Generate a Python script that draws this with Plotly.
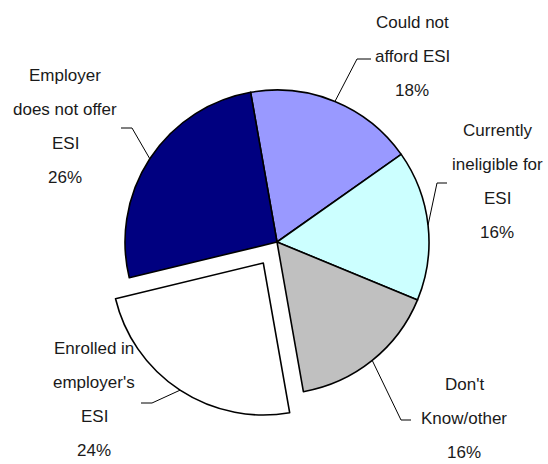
import math
import plotly.graph_objects as go

# Reasons for not having employer-sponsored insurance (share of respondents, %)
categories = [
    "Could not afford ESI",
    "Currently ineligible for ESI",
    "Don't Know/other",
    "Enrolled in employer's ESI",
    "Employer does not offer ESI",
]
label_lines = [
    ["Could not", "afford ESI"],
    ["Currently", "ineligible for", "ESI"],
    ["Don't", "Know/other"],
    ["Enrolled in", "employer's", "ESI"],
    ["Employer", "does not offer", "ESI"],
]
values = [18, 16, 16, 24, 26]
colors = ["#9999FF", "#CCFFFF", "#C0C0C0", "#FFFFFF", "#000080"]
pulls = [0, 0, 0, 0.165, 0]

W, H = 548, 464
ROTATION = -10          # degrees clockwise from 12 o'clock
CX, CY = 277, 242       # pie centre (px)
R = 152                 # pie radius (px)
BOX = R * (1 + max(pulls))

FONT = dict(family="Liberation Sans, Arial, sans-serif", size=17, color="#1a1a1a")
LINE_GAP = 34

# label block placement: centre x, first-line y, leader elbow, leader end (px)
label_pos = [
    dict(x=412, y=22, elbow=(357, 59), end=(371, 59)),
    dict(x=497, y=130, elbow=(437, 183), end=(447, 183)),
    dict(x=464, y=384, elbow=(401, 420), end=(411, 420)),
    dict(x=94, y=348, elbow=(152, 403), end=(141, 403)),
    dict(x=65, y=75, elbow=(132, 128), end=(121, 128)),
]


def px_x(x):
    return x / W


def px_y(y):
    return 1 - y / H


fig = go.Figure(go.Pie(
    labels=categories,
    values=values,
    sort=False,
    direction="clockwise",
    rotation=ROTATION,
    pull=pulls,
    marker=dict(colors=colors, line=dict(color="#000000", width=1.6)),
    textinfo="none",
    hoverinfo="label+percent",
    showlegend=False,
    domain=dict(x=[px_x(CX - BOX), px_x(CX + BOX)],
                y=[px_y(CY + BOX), px_y(CY - BOX)]),
))

total = sum(values)
annotations = []
shapes = []
cum = 0
for i, v in enumerate(values):
    share = v / total
    mid = math.radians(ROTATION + 360 * (cum + v / 2) / total)
    cum += v
    sx, sy = math.sin(mid), -math.cos(mid)
    ox, oy = CX + pulls[i] * R * sx, CY + pulls[i] * R * sy
    start = (ox + R * sx, oy + R * sy)
    pos = label_pos[i]
    lines = label_lines[i] + [f"{round(share * 100)}%"]
    for k, line in enumerate(lines):
        annotations.append(dict(
            x=px_x(pos["x"]), y=px_y(pos["y"] + k * LINE_GAP),
            xref="paper", yref="paper", text=line, showarrow=False,
            xanchor="center", yanchor="middle", font=FONT,
        ))
    pts = [start, pos["elbow"], pos["end"]]
    path = "M " + " L ".join(f"{px_x(x)},{px_y(y)}" for x, y in pts)
    shapes.append(dict(type="path", xref="paper", yref="paper", path=path,
                       line=dict(color="#000000", width=1)))

fig.update_layout(
    width=W, height=H,
    margin=dict(l=0, r=0, t=0, b=0),
    paper_bgcolor="#FFFFFF",
    plot_bgcolor="#FFFFFF",
    annotations=annotations,
    shapes=shapes,
)

fig.write_html("out.html")
